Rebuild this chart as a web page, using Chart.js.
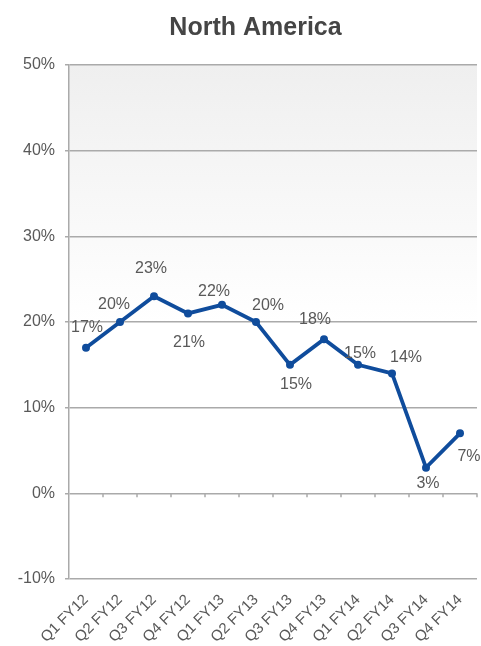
<!DOCTYPE html>
<html lang="en">
<head>
  <meta charset="UTF-8">
  <title>North America</title>
  <script src="https://cdn.jsdelivr.net/npm/chart.js"></script>
  <style>
    body { margin: 0; background: #fff; }
    canvas { display: block; }
  </style>
</head>
<body>
  <canvas id="na-chart" width="481" height="646"></canvas>

  <script>
    // Data
    const chartTitle = 'North America';
    const quarters = ['Q1 FY12', 'Q2 FY12', 'Q3 FY12', 'Q4 FY12', 'Q1 FY13', 'Q2 FY13',
                      'Q3 FY13', 'Q4 FY13', 'Q1 FY14', 'Q2 FY14', 'Q3 FY14', 'Q4 FY14'];
    const growth = [17, 20, 23, 21, 22, 20, 15, 18, 15, 14, 3, 7];
    const yTicks = [-10, 0, 10, 20, 30, 40, 50];

    // label nudges relative to each point (dx, dy in px)
    const labelNudge = [[1, -20], [-6, -17], [-3, -28], [1, 29], [-8, -13], [12, -16],
                        [6, 20], [-9, -20], [2, -11], [14, -16], [2, 16], [9, 23]];

    const FONT = '"Liberation Sans", Arial, Helvetica, sans-serif';

    // plot background gradient, title, small ticks on the zero line, value labels
    const plotDecor = {
      id: 'plotDecor',
      beforeDraw(chart) {
        const { ctx, chartArea: a } = chart;
        const g = ctx.createLinearGradient(0, a.top, 0, a.bottom);
        g.addColorStop(0, '#efefef');
        g.addColorStop(0.5, '#ffffff');
        g.addColorStop(1, '#ffffff');
        ctx.save();
        ctx.fillStyle = g;
        ctx.fillRect(a.left, a.top, a.right - a.left, a.bottom - a.top);
        // title sits a bit right of the canvas centre, as in the reference
        ctx.font = 'bold 25px ' + FONT;
        ctx.fillStyle = '#454545';
        ctx.textAlign = 'center';
        ctx.textBaseline = 'middle';
        ctx.fillText(chartTitle, (chart.width + 30) / 2, 28);
        ctx.restore();
      },
      beforeDatasetsDraw(chart) {
        const { ctx, chartArea: a } = chart;
        const y0 = chart.scales.y.getPixelForValue(0);
        const step = (a.right - a.left) / quarters.length;
        ctx.save();
        ctx.strokeStyle = '#aaaaaa';
        ctx.lineWidth = 1.5;
        ctx.beginPath();
        for (let i = 1; i <= quarters.length; i++) {
          const x = a.left + i * step;
          ctx.moveTo(x, y0);
          ctx.lineTo(x, y0 + 4);
        }
        ctx.stroke();
        ctx.restore();
      },
      afterDatasetsDraw(chart) {
        const { ctx } = chart;
        const pts = chart.getDatasetMeta(0).data;
        ctx.save();
        ctx.font = '16px ' + FONT;
        ctx.fillStyle = '#595959';
        ctx.textAlign = 'center';
        ctx.textBaseline = 'middle';
        pts.forEach((p, i) => {
          const n = labelNudge[i];
          ctx.fillText(growth[i] + '%', p.x + n[0], p.y + n[1]);
        });
        ctx.restore();
      }
    };

    new Chart(document.getElementById('na-chart').getContext('2d'), {
      type: 'line',
      data: {
        labels: quarters,
        datasets: [{
          label: chartTitle,
          data: growth,
          borderColor: '#0f4c9c',
          backgroundColor: '#0f4c9c',
          borderWidth: 3.8,
          pointRadius: 4,
          pointBorderWidth: 0,
          pointHoverRadius: 4,
          tension: 0,
          fill: false
        }]
      },
      options: {
        responsive: false,
        animation: false,
        devicePixelRatio: 1,
        layout: { padding: { top: 65, right: 0, bottom: 0, left: 0 } },
        plugins: {
          legend: { display: false },
          tooltip: { enabled: false },
          title: { display: false }
        },
        scales: {
          x: {
            offset: true,
            grid: { display: false },
            border: { display: false },
            ticks: {
              color: '#595959',
              font: { family: FONT, size: 15 },
              minRotation: 45,
              maxRotation: 45,
              padding: 4
            },
            afterFit(s) { s.height = 67; }
          },
          y: {
            min: yTicks[0],
            max: yTicks[yTicks.length - 1],
            afterBuildTicks(s) { s.ticks = yTicks.map(v => ({ value: v })); },
            grid: { color: '#aaaaaa', lineWidth: 1.5, tickLength: 4 },
            border: { color: '#aaaaaa', width: 1.5 },
            ticks: {
              color: '#595959',
              font: { family: FONT, size: 16 },
              padding: 10,
              callback: v => v + '%'
            },
            afterFit(s) { s.width = 69; }
          }
        }
      },
      plugins: [plotDecor]
    });
  </script>
</body>
</html>
